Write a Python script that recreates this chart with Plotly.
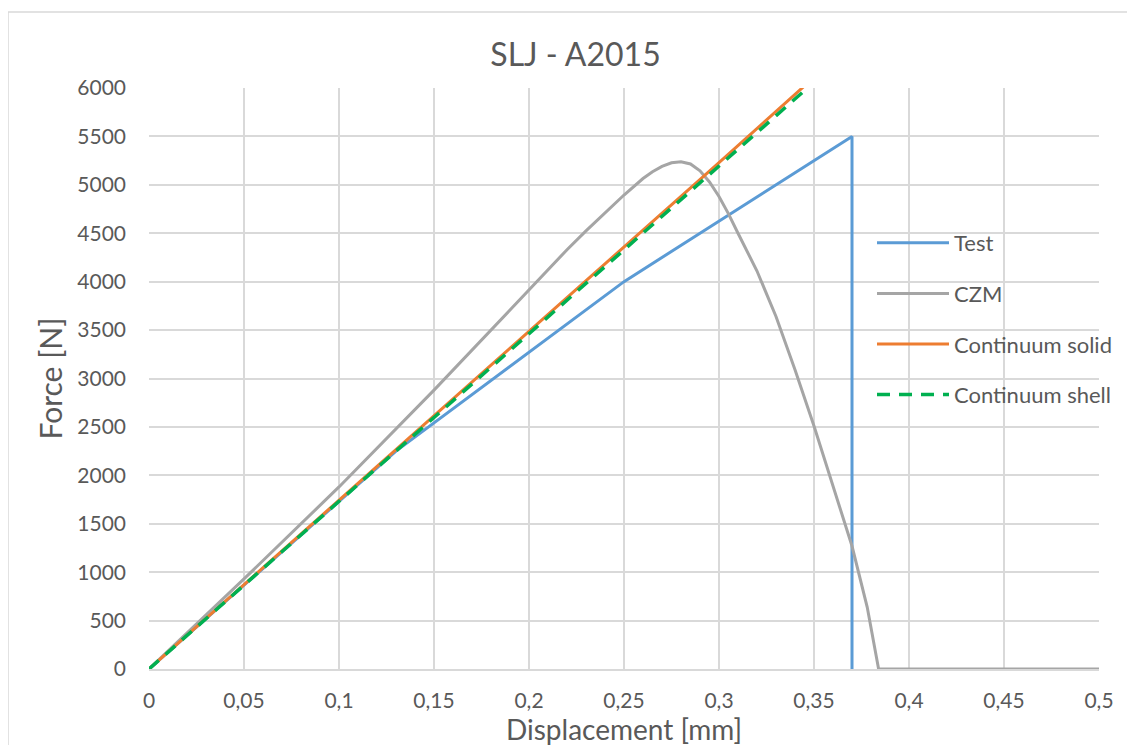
import plotly.graph_objects as go

# ---- data ----
test_x = [0, 0.13, 0.25, 0.37, 0.37]
test_y = [0, 2250, 4000, 5500, 0]

czm_x = [0, 0.05, 0.1, 0.15, 0.19, 0.2, 0.21, 0.22, 0.23, 0.24, 0.25, 0.26, 0.265, 0.27,
         0.275, 0.28, 0.285, 0.29, 0.295, 0.3, 0.305, 0.31, 0.32, 0.33, 0.34, 0.35, 0.36,
         0.37, 0.378, 0.383, 0.384, 0.5]
czm_y = [0, 930, 1880, 2880, 3707, 3915, 4125, 4330, 4525, 4710, 4895, 5065, 5135, 5190,
         5228, 5238, 5215, 5145, 5030, 4880, 4700, 4500, 4110, 3640, 3090, 2510, 1900,
         1270, 640, 130, 0, 0]

solid_x = [0, 0.1, 0.2, 0.3, 0.35]
solid_y = [0, 1740, 3490, 5230, 6110]

shell_x = [0, 0.1, 0.2, 0.3, 0.35]
shell_y = [0, 1730, 3465, 5195, 6060]

x_ticks = [0, 0.05, 0.1, 0.15, 0.2, 0.25, 0.3, 0.35, 0.4, 0.45, 0.5]
y_ticks = list(range(0, 6001, 500))

FONT = "Lato, 'Open Sans', sans-serif"
TXT = "#595959"
GRID = "#d9d9d9"

fig = go.Figure()
fig.add_trace(go.Scatter(x=test_x, y=test_y, name="Test", mode="lines",
                         line=dict(color="#5b9bd5", width=3), legendgroup="a"))
fig.add_trace(go.Scatter(x=czm_x, y=czm_y, name="CZM", mode="lines",
                         line=dict(color="#a5a5a5", width=3), legendgroup="b"))
fig.add_trace(go.Scatter(x=solid_x, y=solid_y, name="Continuum solid", mode="lines",
                         line=dict(color="#ed7d31", width=3), legendgroup="c"))
fig.add_trace(go.Scatter(x=shell_x, y=shell_y, name="Continuum shell", mode="lines",
                         line=dict(color="#00b050", width=3.5, dash="13px,9px"), legendgroup="d"))

# page is offset by 8px (body margin); margins compensate
OFF = 8
W, H = 1135, 745
L, R, T, B = 149 - OFF, W + OFF - 1099, 88 - OFF, H + OFF - 669
pw = W - L - R
ph = H - T - B


def px_x(page_x):
    return (page_x - OFF - L) / pw


def px_y(page_y):
    return (H - B - (page_y - OFF)) / ph


fig.update_layout(
    width=W, height=H,
    margin=dict(l=L, r=R, t=T, b=B, autoexpand=False),
    paper_bgcolor="white", plot_bgcolor="white",
    separators=",.",
    font=dict(family=FONT, color=TXT, size=21),
    title=dict(text="SLJ - A2015", x=0.5, xanchor="center", y=1 - (55 - OFF) / H, yanchor="middle",
               font=dict(size=32, color=TXT, family=FONT)),
    xaxis=dict(range=[0, 0.5], tickvals=x_ticks, showgrid=True, gridcolor=GRID, gridwidth=1.5,
               zeroline=False, showline=True, linecolor=GRID, linewidth=1.5, ticks="",
               tickfont=dict(size=21, color=TXT), ticklabelstandoff=12,
               title=dict(text="Displacement [mm]", font=dict(size=28, color=TXT), standoff=0)),
    yaxis=dict(range=[0, 6000], tickvals=y_ticks, showgrid=True, gridcolor=GRID, gridwidth=1.5,
               zeroline=False, showline=False, ticks="", tickformat="d",
               tickfont=dict(size=21, color=TXT), ticklabelstandoff=22,
               title=dict(text="Force [N]", font=dict(size=30, color=TXT), standoff=5)),
    legend=dict(x=px_x(872), xanchor="left", y=px_y(222), yanchor="top",
                bgcolor="rgba(0,0,0,0)", font=dict(size=22, color=TXT),
                tracegroupgap=19, itemwidth=72),
    shapes=[dict(type="rect", xref="paper", yref="paper",
                 x0=px_x(8), x1=px_x(W + 30),
                 y0=px_y(H + 30), y1=px_y(12),
                 line=dict(color=GRID, width=1.5), fillcolor="rgba(0,0,0,0)", layer="below")],
)

fig.write_html("out.html")
